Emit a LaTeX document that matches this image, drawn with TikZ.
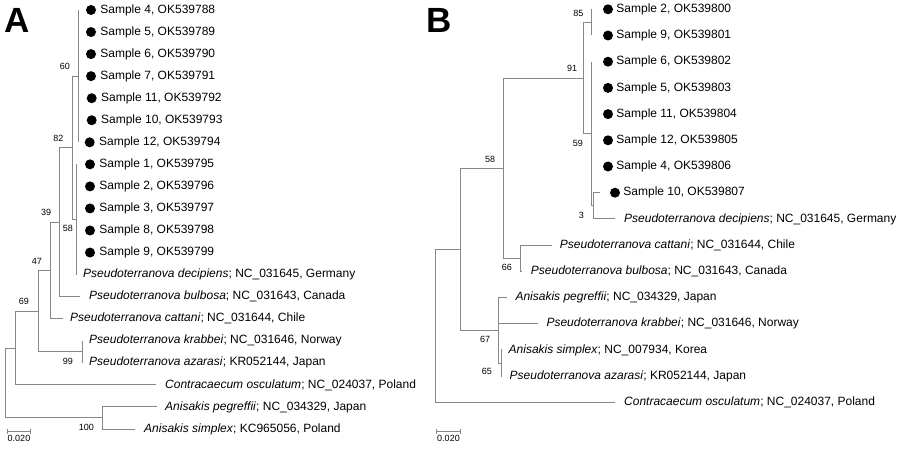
\documentclass[tikz,border=0pt]{standalone}
\usepackage{fontspec}
\setmainfont{Liberation Sans}
\usetikzlibrary{positioning,arrows.meta,calc}
\definecolor{treegray}{RGB}{135,135,135}
\tikzset{
  branch/.style={draw=treegray, line width=1pt},
  leaf/.style={anchor=west, inner sep=0pt, font=\fontsize{12}{14}\selectfont},
  sample/.style={circle, fill=black, inner sep=0pt, minimum size=10pt},
  boot/.style={inner sep=0pt, font=\fontsize{9}{10}\selectfont},
  panel/.style={anchor=base west, inner sep=0pt, font=\bfseries\fontsize{35}{40}\selectfont},
  scalebar/.style={draw=treegray, line width=1pt, {Bar[width=5pt]}-{Bar[width=5pt]}},
}

\begin{document}
\begin{tikzpicture}[x=1pt, y=-1pt]
  \useasboundingbox (0,0) rectangle (900,449);

  % ---- panel A ----
  \node[panel] (labA) at (4.5,33) {A};
  \coordinate (rA) at (5,383);
  \coordinate (nA8) at (15,348);
  \coordinate (nA6) at (38,311.1);
  \coordinate (nA5) at (50,270.5);
  \coordinate (nA4) at (59.3,222.2);
  \coordinate (nA2) at (72.7,147.8);
  \coordinate (nA1) at (78,76.2);
  \coordinate (nA3) at (76,219.5);
  \coordinate (nA7) at (82,351.8);
  \coordinate (nA9) at (102,417.9);

  \draw[branch] (rA) |- (nA8);
  \draw[branch] (rA) |- (nA9);
  \draw[branch] (nA8) |- (nA6);
  \draw[branch] (nA6) |- (nA5);
  \draw[branch] (nA6) |- (nA7);
  \draw[branch] (nA5) |- (nA4);
  \draw[branch] (nA4) |- (nA2);
  \draw[branch] (nA2) |- (nA1);
  \draw[branch] (nA2) |- (nA3);

  \foreach \k/\s/\acc/\dx in {0/4/788/91, 1/5/789/91, 2/6/790/91, 3/7/791/91,
      4/11/792/91.7, 5/10/793/91.7, 6/12/794/89.7} {
    \coordinate (tA\s) at (78,{10+22.05*\k});
    \draw[branch] (nA1) |- (tA\s);
    \node[sample] (dA\s) at (\dx,{10+22.05*\k}) {};
    \node[leaf, right=4pt of dA\s] (xA\s) {Sample \s, OK539\acc};
  }
  \foreach \k/\s/\acc in {7/1/795, 8/2/796, 9/3/797, 10/8/798, 11/9/799} {
    \coordinate (tA\s) at (76,{10+22.05*\k});
    \draw[branch] (nA3) |- (tA\s);
    \node[sample] (dA\s) at (90,{10+22.05*\k}) {};
    \node[leaf, right=4pt of dA\s] (xA\s) {Sample \s, OK539\acc};
  }

  \coordinate (tAdec) at (76,274.6);
  \coordinate (tAbul) at (80,296.7);
  \coordinate (tAcat) at (63,318.7);
  \coordinate (tAkra) at (82,340.8);
  \coordinate (tAaza) at (82,362.8);
  \coordinate (tAcon) at (156,384.9);
  \coordinate (tApeg) at (157,406.9);
  \coordinate (tAsim) at (135,429);
  \draw[branch] (nA3) |- (tAdec);
  \draw[branch] (nA4) |- (tAbul);
  \draw[branch] (nA5) |- (tAcat);
  \draw[branch] (nA7) |- (tAkra);
  \draw[branch] (nA7) |- (tAaza);
  \draw[branch] (nA8) |- (tAcon);
  \draw[branch] (nA9) |- (tApeg);
  \draw[branch] (nA9) |- (tAsim);
  \node[leaf, right=7pt of tAdec] (xAdec) {\textit{Pseudoterranova decipiens}; NC\_031645, Germany};
  \node[leaf, right=9pt of tAbul] (xAbul) {\textit{Pseudoterranova bulbosa}; NC\_031643, Canada};
  \node[leaf, right=7pt of tAcat] (xAcat) {\textit{Pseudoterranova cattani}; NC\_031644, Chile};
  \node[leaf, right=7pt of tAkra] (xAkra) {\textit{Pseudoterranova krabbei}; NC\_031646, Norway};
  \node[leaf, right=7pt of tAaza] (xAaza) {\textit{Pseudoterranova azarasi}; KR052144, Japan};
  \node[leaf, right=9pt of tAcon] (xAcon) {\textit{Contracaecum osculatum}; NC\_024037, Poland};
  \node[leaf, right=8pt of tApeg] (xApeg) {\textit{Anisakis pegreffii}; NC\_034329, Japan};
  \node[leaf, right=9pt of tAsim] (xAsim) {\textit{Anisakis simplex}; KC965056, Poland};

  % bootstrap values A
  \node[boot, above left=6pt and 8pt of nA1] (bA60) {60};
  \node[boot, above left=6pt and 9pt of nA2] (bA82) {82};
  \node[boot, below left=6pt and 3pt of nA3] (bA58) {58};
  \node[boot, above left=6pt and 8pt of nA4] (bA39) {39};
  \node[boot, above left=6pt and 8pt of nA5] (bA47) {47};
  \node[boot, above left=6pt and 9pt of nA6] (bA69) {69};
  \node[boot, below left=6pt and 9pt of nA7] (bA99) {99};
  \node[boot, below left=6pt and 8pt of nA9] (bA100) {100};

  \coordinate (sA0) at (7,431);
  \coordinate (sA1) at (31,431);
  \coordinate (sAm) at ($(sA0)!0.5!(sA1)$);
  \draw[scalebar] (sA0) -- (sA1);
  \node[boot, below=4pt of sAm] (kA) {0.020};

  % ---- panel B ----
  \node[panel] (labB) at (426,33) {B};
  \coordinate (rB) at (435,325.8);
  \coordinate (nBx) at (460,249.2);
  \coordinate (nB58) at (503.3,168.2);
  \coordinate (nB91) at (583.3,78.1);
  \coordinate (nB85) at (591.7,22.4);
  \coordinate (nB59) at (591,133.8);
  \coordinate (nB3) at (593,205.8);
  \coordinate (nB66) at (520,258.2);
  \coordinate (nB67) at (498.3,330.3);
  \coordinate (nB65) at (501,363);

  \draw[branch] (rB) |- (nBx);
  \draw[branch] (nBx) |- (nB58);
  \draw[branch] (nBx) |- (nB67);
  \draw[branch] (nB58) |- (nB91);
  \draw[branch] (nB58) |- (nB66);
  \draw[branch] (nB91) |- (nB85);
  \draw[branch] (nB91) |- (nB59);
  \draw[branch] (nB59) |- (nB3);
  \draw[branch] (nB67) |- (nB65);

  \foreach \k/\s/\acc in {0/2/800, 1/9/801} {
    \coordinate (tB\s) at (591.7,{9.3+26.2*\k});
    \draw[branch] (nB85) |- (tB\s);
    \node[sample] (dB\s) at (608,{9.3+26.2*\k}) {};
    \node[leaf, right=3pt of dB\s] (xB\s) {Sample \s, OK539\acc};
  }
  \foreach \k/\s/\acc in {2/6/802, 3/5/803, 4/11/804, 5/12/805, 6/4/806} {
    \coordinate (tB\s) at (591,{9.3+26.2*\k});
    \draw[branch] (nB59) |- (tB\s);
    \node[sample] (dB\s) at (608,{9.3+26.2*\k}) {};
    \node[leaf, right=3pt of dB\s] (xB\s) {Sample \s, OK539\acc};
  }
  \coordinate (tB10) at (600,192.7);
  \draw[branch] (nB3) |- (tB10);
  \node[sample] (dB10) at (615,192.7) {};
  \node[leaf, right=3pt of dB10] (xB10) {Sample 10, OK539807};

  \coordinate (tBdec) at (615,218.9);
  \coordinate (tBcat) at (551.7,245.1);
  \coordinate (tBbul) at (521.7,271.3);
  \coordinate (tBpeg) at (507.3,297.5);
  \coordinate (tBkra) at (538.3,323.7);
  \coordinate (tBsim) at (501.5,349.9);
  \coordinate (tBaza) at (501.5,376.1);
  \coordinate (tBcon) at (615,402.3);
  \draw[branch] (nB3) |- (tBdec);
  \draw[branch] (nB66) |- (tBcat);
  \draw[branch] (nB66) |- (tBbul);
  \draw[branch] (nB67) |- (tBpeg);
  \draw[branch] (nB67) |- (tBkra);
  \draw[branch] (nB65) |- (tBsim);
  \draw[branch] (nB65) |- (tBaza);
  \draw[branch] (rB) |- (tBcon);
  \node[leaf, right=9pt of tBdec] (xBdec) {\textit{Pseudoterranova decipiens}; NC\_031645, Germany};
  \node[leaf, right=8pt of tBcat] (xBcat) {\textit{Pseudoterranova cattani}; NC\_031644, Chile};
  \node[leaf, right=9pt of tBbul] (xBbul) {\textit{Pseudoterranova bulbosa}; NC\_031643, Canada};
  \node[leaf, right=8pt of tBpeg] (xBpeg) {\textit{Anisakis pegreffii}; NC\_034329, Japan};
  \node[leaf, right=8pt of tBkra] (xBkra) {\textit{Pseudoterranova krabbei}; NC\_031646, Norway};
  \node[leaf, right=7pt of tBsim] (xBsim) {\textit{Anisakis simplex}; NC\_007934, Korea};
  \node[leaf, right=8pt of tBaza] (xBaza) {\textit{Pseudoterranova azarasi}; KR052144, Japan};
  \node[leaf, right=9pt of tBcon] (xBcon) {\textit{Contracaecum osculatum}; NC\_024037, Poland};

  % bootstrap values B
  \node[boot, above left=6pt and 8pt of nB85] (bB85) {85};
  \node[boot, above left=6pt and 6pt of nB91] (bB91) {91};
  \node[boot, below left=6pt and 8pt of nB59] (bB59) {59};
  \node[boot, below left=6pt and 9pt of nB3] (bB3) {3};
  \node[boot, above left=5pt and 8pt of nB58] (bB58) {58};
  \node[boot, below left=6pt and 8pt of nB66] (bB66) {66};
  \node[boot, below left=6pt and 8pt of nB67] (bB67) {67};
  \node[boot, below left=5pt and 9pt of nB65] (bB65) {65};

  \coordinate (sB0) at (436,431);
  \coordinate (sB1) at (461,431);
  \coordinate (sBm) at ($(sB0)!0.5!(sB1)$);
  \draw[scalebar] (sB0) -- (sB1);
  \node[boot, below=4pt of sBm] (kB) {0.020};
\end{tikzpicture}
\end{document}
